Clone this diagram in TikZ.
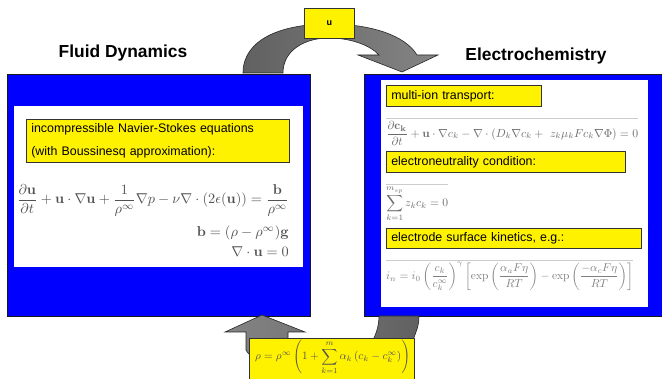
\documentclass[tikz,border=0pt]{standalone}
\usepackage{amsmath,amssymb}
\usepackage{graphicx}
\usepackage[no-math]{fontspec}
\newfontfamily\arial{Liberation Sans}
\begin{document}
\begin{tikzpicture}[x=1pt,y=-1pt,
  bluebox/.style={draw=black!90, fill=blue, line width=0.8pt, anchor=north west, inner sep=0pt},
  whitebox/.style={fill=white, draw=none, anchor=north west, inner sep=0pt},
  ylabel/.style={draw=black!80, fill=yellow, line width=0.6pt, font=\arial\fontsize{12.4}{23}\selectfont, anchor=north west, inner sep=0pt, inner xsep=5pt, align=left},
  eq/.style={text=black!68, inner sep=0pt},
  title/.style={font=\arial\bfseries\fontsize{17.4}{20}\selectfont},
  arrowshape/.style={draw=black!85, line width=0.6pt},
  rule/.style={draw=black!20, line width=0.8pt}
]
\useasboundingbox (0,0) rectangle (662,379);

% blue frames
\node[bluebox, minimum width=303pt, minimum height=242pt] (fd) at (7,74) {};
\node[bluebox, minimum width=302pt, minimum height=242pt] (ec) at (364,74) {};
\node[whitebox, minimum width=289pt, minimum height=161pt] (fdw) at (14,106) {};
\node[whitebox, minimum width=267pt, minimum height=227pt] (ecw) at (381,80) {};

% titles
\node[title] (t1) at (123,53) {Fluid Dynamics};
\node[title] (t2) at (536,56) {Electrochemistry};

% top curved arrow (u)
\path[arrowshape, left color=black!62, right color=black!48]
  (243,73) .. controls (243,40) and (280,24) .. (329,24)
  .. controls (370,24) and (405,35) .. (417,55)
  -- (438,55) -- (402,72) -- (358,55) -- (379,55)
  .. controls (370,45) and (350,38) .. (329,38)
  .. controls (305,38) and (283,50) .. (283,73) -- cycle;

% bottom curved arrow (rho)
\path[arrowshape, left color=black!48, right color=black!62]
  (419,316) .. controls (419,326) and (416,332) .. (413,340)
  .. controls (400,375) and (260,378) .. (246,350)
  -- (246,332) -- (225,332) -- (262,315) -- (305,332) -- (288,332)
  -- (288,345) .. controls (300,360) and (360,360) .. (373,340)
  .. controls (377,332) and (379,324) .. (379,316) -- cycle;

% u box
\node[ylabel, minimum width=50pt, minimum height=30pt, font=\arial\bfseries\fontsize{9}{11}\selectfont, align=center, inner xsep=0pt] (ubox) at (304,8) {u};

% left label and equations
\node[ylabel, minimum width=263pt, minimum height=43pt, text width=253pt] (nsl) at (26,119)
  {incompressible Navier-Stokes equations\\(with Boussinesq approximation):};
\node[eq, anchor=north east] (nse) at (289,184) {\resizebox{272pt}{!}{$\begin{array}{@{}r@{}}
  \displaystyle \frac{\partial \mathbf{u}}{\partial t}+\mathbf{u}\cdot\nabla\mathbf{u}+\frac{1}{\rho^\infty}\nabla p-\nu\nabla\cdot\left(2\epsilon(\mathbf{u})\right)=\frac{\mathbf{b}}{\rho^\infty}\\[11pt]
  \mathbf{b}=(\rho-\rho^\infty)\mathbf{g}\\[2pt]
  \nabla\cdot\mathbf{u}=0
  \end{array}$}};

% right labels and equations
\node[ylabel, minimum width=155pt, minimum height=21pt, text width=145pt] (mil) at (386,85) {multi-ion transport:};
\draw[rule] (386,118) -- (638,118);
\node[eq, text=black!58, anchor=north west] (mie) at (386,121) {\resizebox{252pt}{!}{$\displaystyle \frac{\partial \mathbf{c_k}}{\partial t}+\mathbf{u}\cdot\nabla c_k-\nabla\cdot\left(D_k\nabla c_k+\ z_k\mu_kFc_k\nabla\Phi\right)=0$}};

\node[ylabel, minimum width=239pt, minimum height=21pt, text width=229pt] (enl) at (386,151) {electroneutrality condition:};
\draw[rule] (386,184) -- (448,184);
\node[eq, text=black!58, anchor=north west] (ene) at (386,186) {\resizebox{62pt}{!}{$\displaystyle\sum_{k=1}^{m_{sp}} z_kc_k=0$}};

\node[ylabel, minimum width=255pt, minimum height=20pt, text width=245pt] (skl) at (386,228) {electrode surface kinetics, e.g.:};
\draw[rule] (386,260) -- (633,260);
\node[eq, text=black!50, anchor=north west] (ske) at (386,262) {\resizebox{247pt}{!}{$\displaystyle i_n=i_0\left(\frac{c_k}{c_k^\infty}\right)^{\gamma}\left[\exp\left(\frac{\alpha_aF\eta}{RT}\right)-\exp\left(\frac{-\alpha_cF\eta}{RT}\right)\right]$}};

% bottom rho box
\node[ylabel, minimum width=165pt, minimum height=45pt] (rbox) at (249,338) {};
\node[eq, anchor=north west] (rhoe) at (255,340) {\resizebox{155pt}{!}{$\displaystyle\rho=\rho^\infty\left(1+\sum_{k=1}^{m}\alpha_k\left(c_k-c_k^\infty\right)\right)$}};
\end{tikzpicture}
\end{document}
